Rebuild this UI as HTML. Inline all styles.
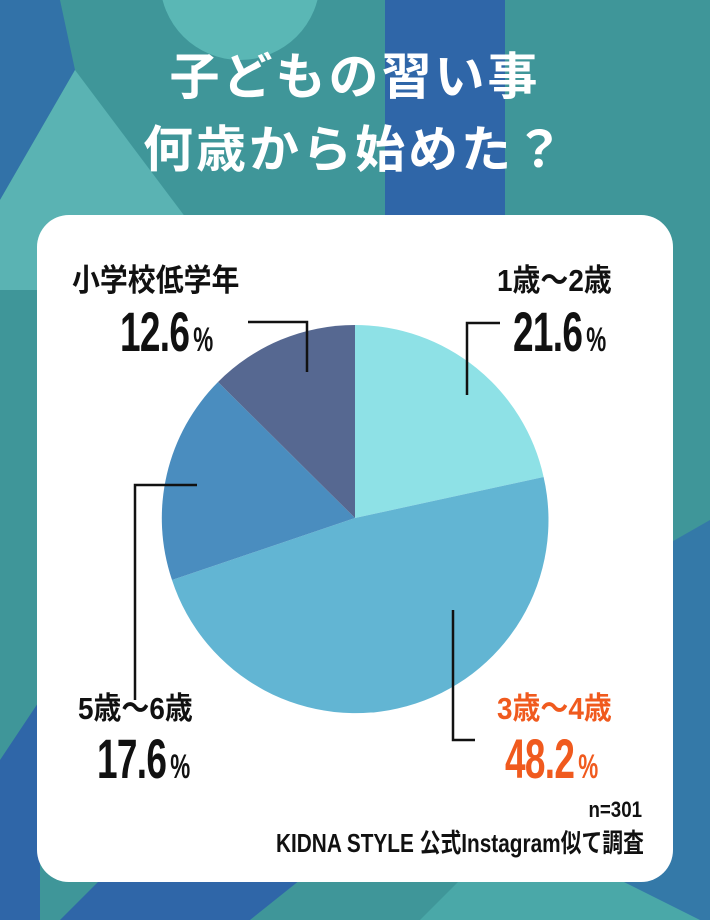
<!DOCTYPE html>
<html><head><meta charset="utf-8"><style>
body{margin:0;width:710px;height:920px;overflow:hidden;font-family:"Liberation Sans","Noto Sans CJK JP",sans-serif}
.t{position:absolute;font-weight:bold;white-space:nowrap}
.lab{font-size:31px;color:#111;transform:scaleX(0.9);transform-origin:left top}
.pct{font-size:56px;color:#111;transform:scaleX(0.66);transform-origin:left top;letter-spacing:-1px;line-height:1}
.pct span{font-size:34px;margin-left:6px}
</style></head><body>
<svg width="710" height="920" style="position:absolute;left:0;top:0">
<rect width="710" height="920" fill="#3f9699"/>
<circle cx="240" cy="-20" r="80" fill="#5ab7b5"/>
<polygon points="0,0 60,0 75,70 0,200" fill="#3272a8"/>
<polygon points="0,200 75,70 240,290 0,290" fill="#5ab3b3"/>
<rect x="385" y="0" width="120" height="290" fill="#2f66a8"/>
<polygon points="640,560 710,520 710,920 600,920" fill="#3479a8"/>
<polygon points="0,760 40,700 40,920 0,920" fill="#2f66a8"/>
<polygon points="100,880 300,880 250,920 60,920" fill="#2f66a8"/>
<polygon points="460,880 620,880 700,920 420,920" fill="#4aa8a8"/>
<rect x="37" y="215" width="636" height="667" rx="32" fill="#fff"/>
<path d="M355,518 L355,325 A193,193 0 0 1 543.6,477 Z" fill="#8ee1e6"/>
<path d="M355,518 L543.6,477 A193,193 0 0 1 172,580 Z" fill="#62b5d3"/>
<path d="M355,518 L172,580 A193,193 0 0 1 218,382 Z" fill="#4a8dbf"/>
<path d="M355,518 L218,382 A193,193 0 0 1 355,325 Z" fill="#566891"/>
<g stroke="#111" stroke-width="2.5" fill="none">
<polyline points="248,322 307,322 307,372"/>
<polyline points="500,323 467,323 467,395"/>
<polyline points="197,485 135,485 135,700"/>
<polyline points="453,610 453,740 475,740"/>
</g>
</svg>
<div class="t" style="left:0;width:710px;text-align:center;top:41px;font-size:50px;font-weight:bold;color:#fff;line-height:73px;letter-spacing:3px">子どもの習い事<br>何歳から始めた？</div>
<div class="t lab" style="left:72px;top:255px">小学校低学年</div>
<div class="t pct" style="left:120px;top:304px">12.6<span>%</span></div>
<div class="t lab" style="left:497px;top:255px">1歳〜2歳</div>
<div class="t pct" style="left:513px;top:304px">21.6<span>%</span></div>
<div class="t lab" style="left:78px;top:683px">5歳〜6歳</div>
<div class="t pct" style="left:97px;top:731px">17.6<span>%</span></div>
<div class="t lab" style="left:497px;top:683px;color:#f05a1e">3歳〜4歳</div>
<div class="t pct" style="left:505px;top:731px;color:#f05a1e">48.2<span>%</span></div>
<div class="t" style="right:68px;top:797px;font-size:22px;color:#111;transform:scaleX(0.85);transform-origin:right top">n=301</div>
<div class="t" style="right:66px;top:823px;font-size:26px;color:#111;transform:scaleX(0.8);transform-origin:right top">KIDNA STYLE 公式Instagram似て調査</div>
</body></html>
